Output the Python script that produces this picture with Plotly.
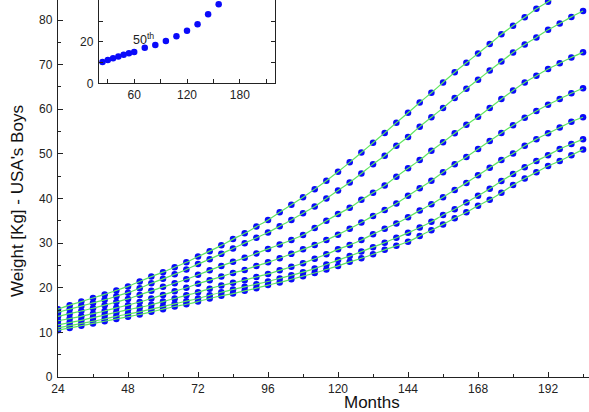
import plotly.graph_objects as go

months = [24, 28, 32, 36, 40, 44, 48, 52, 56, 60, 64, 68, 72, 76, 80, 84, 88, 92, 96, 100,
          104, 108, 112, 116, 120, 124, 128, 132, 136, 140, 144, 148, 152, 156, 160, 164,
          168, 172, 176, 180, 184, 188, 192, 196, 200, 204]

p95 = [15.2, 16.1, 16.9, 17.7, 18.5, 19.4, 20.3, 21.4, 22.5, 23.5, 24.6, 25.7, 27.0, 28.2, 29.5,
       30.9, 32.2, 33.7, 35.2, 36.9, 38.6, 40.3, 42.1, 44.0, 46.0, 48.1, 50.3, 52.5, 54.7, 57.0,
       59.2, 61.5, 63.7, 66.0, 68.3, 70.4, 72.5, 74.6, 76.8, 78.7, 80.6, 82.5, 84.1, 85.8, 87.3, 88.8]
p90 = [14.5, 15.2, 15.9, 16.6, 17.3, 18.1, 18.9, 19.9, 21.0, 22.0, 23.0, 24.1, 25.3, 26.4, 27.6,
       28.8, 30.0, 31.2, 32.4, 33.8, 35.2, 36.7, 38.2, 40.0, 41.8, 43.6, 45.6, 47.7, 49.6, 51.8,
       53.8, 56.1, 58.2, 60.3, 62.5, 64.6, 66.6, 68.7, 70.7, 72.7, 74.5, 76.1, 77.8, 79.2, 80.7, 82.0]
p75 = [13.6, 14.2, 14.8, 15.4, 16.1, 16.8, 17.5, 18.4, 19.3, 20.2, 21.0, 21.9, 22.9, 23.9, 24.9,
       25.8, 26.7, 27.7, 28.7, 29.7, 30.7, 31.8, 33.4, 35.0, 36.5, 37.9, 39.7, 41.3, 42.9, 44.9,
       46.8, 48.6, 50.7, 52.6, 54.6, 56.5, 58.3, 60.3, 62.3, 64.2, 66.0, 67.5, 69.0, 70.3, 71.6, 72.8]
p50 = [12.6, 13.1, 13.6, 14.2, 14.8, 15.5, 16.1, 16.8, 17.6, 18.4, 19.2, 20.0, 20.9, 21.7, 22.5,
       23.3, 24.0, 24.9, 25.7, 26.6, 27.6, 28.6, 29.6, 30.7, 31.9, 33.2, 34.6, 36.1, 37.4, 38.9,
       40.6, 42.3, 44.0, 45.9, 47.7, 49.3, 51.1, 52.9, 54.7, 56.4, 58.1, 59.6, 61.0, 62.3, 63.6, 64.7]
p25 = [11.7, 12.2, 12.7, 13.3, 13.9, 14.5, 15.1, 15.6, 16.2, 16.9, 17.6, 18.3, 19.0, 19.8, 20.5,
       21.1, 21.7, 22.4, 23.1, 23.9, 24.7, 25.5, 26.5, 27.5, 28.6, 29.6, 30.7, 32.0, 33.2, 34.4,
       35.8, 37.3, 38.7, 40.3, 41.9, 43.5, 45.2, 46.9, 48.6, 50.1, 51.8, 53.3, 54.6, 55.9, 57.2, 58.2]
p10 = [11.0, 11.5, 12.0, 12.5, 13.0, 13.6, 14.1, 14.6, 15.2, 15.8, 16.4, 17.0, 17.6, 18.3, 19.0,
       19.6, 20.2, 20.8, 21.4, 22.1, 22.8, 23.5, 24.3, 25.2, 26.2, 27.1, 28.1, 29.1, 30.1, 31.2,
       32.3, 33.5, 34.8, 36.3, 37.6, 39.1, 40.6, 42.2, 43.9, 45.5, 47.0, 48.4, 49.7, 51.1, 52.2, 53.3]
p5 = [10.5, 11.0, 11.5, 12.0, 12.5, 13.0, 13.5, 14.0, 14.6, 15.2, 15.8, 16.3, 16.9, 17.6, 18.2,
      18.7, 19.3, 19.9, 20.6, 21.2, 21.9, 22.6, 23.3, 24.1, 24.9, 25.8, 26.6, 27.5, 28.5, 29.4,
      30.3, 31.6, 32.9, 34.2, 35.6, 36.9, 38.4, 39.7, 41.3, 43.0, 44.5, 45.9, 47.3, 48.4, 49.7, 51.0]

inset_months = [24, 30, 36, 42, 48, 54, 60, 72, 84, 96, 108, 120, 132, 144, 156]
inset_p50 = [10.3, 11.3, 12.1, 12.9, 13.8, 14.5, 15.1, 17.1, 18.5, 20.4, 22.7, 25.3, 28.5, 33.3, 38.2]

curves = [p5, p10, p25, p50, p75, p90, p95]

DOT = "rgb(10,10,250)"
GREEN = "rgb(95,230,95)"
FONT = "Liberation Sans, Arial, sans-serif"

fig = go.Figure()
for c in curves:
    fig.add_trace(go.Scatter(x=months, y=c, mode="markers",
                             marker=dict(size=6.5, color=DOT, line=dict(width=0)),
                             showlegend=False, hoverinfo="skip"))
for c in curves:
    fig.add_trace(go.Scatter(x=months, y=c, mode="lines",
                             line=dict(color=GREEN, width=1.2, shape="spline", smoothing=0.6),
                             showlegend=False, hoverinfo="skip"))

fig.add_trace(go.Scatter(x=inset_months, y=inset_p50, mode="markers", xaxis="x2", yaxis="y2",
                         marker=dict(size=6.5, color=DOT, line=dict(width=0)),
                         showlegend=False, hoverinfo="skip"))

W, H = 589, 412
L, B = 58, 35
pw = W - L
ph = H - B


def px_x(p):
    return (p - L) / pw


def px_y(p):
    return (ph - p) / ph


axis_common = dict(showline=True, linecolor="#222", linewidth=1.3, ticks="inside",
                   tickcolor="#222", tickwidth=1, showgrid=False, zeroline=False,
                   automargin=False,
                   tickfont=dict(family=FONT, size=12, color="#222"))

fig.update_layout(
    width=W, height=H,
    margin=dict(l=L, r=0, t=0, b=B, autoexpand=False),
    paper_bgcolor="white", plot_bgcolor="white",
    xaxis=dict(range=[24, 24 + pw / 2.917], tickmode="array",
               tickvals=[24, 48, 72, 96, 120, 144, 168, 192], ticklen=5,
               minor=dict(tickvals=[36, 60, 84, 108, 132, 156, 180, 204], ticklen=3,
                          ticks="inside", tickcolor="#222"),
               **axis_common),
    yaxis=dict(range=[0, ph / 4.4625], tickmode="array",
               tickvals=[0, 10, 20, 30, 40, 50, 60, 70, 80], ticklen=5,
               minor=dict(tickvals=[5, 15, 25, 35, 45, 55, 65, 75], ticklen=3,
                          ticks="inside", tickcolor="#222"),
               ticklabelstandoff=2,
               **axis_common),
    xaxis2=dict(domain=[px_x(99), px_x(275)], anchor="y2", range=[20, 220],
                tickmode="array", tickvals=[60, 120, 180], ticklen=4,
                minor=dict(tickvals=[30, 90, 150, 210], ticklen=4, ticks="inside",
                           tickcolor="#222"),
                mirror=False, **axis_common),
    yaxis2=dict(domain=[px_y(83.3), 1.0], anchor="x2", range=[0, 40.2],
                tickmode="array", tickvals=[0, 20, 40], ticklen=4,
                minor=dict(tickvals=[10, 30], ticklen=4, ticks="inside", tickcolor="#222"),
                mirror="ticks", ticklabelstandoff=2, **axis_common),
    annotations=[
        dict(text="50<sup>th</sup>", x=71, y=21.2, xref="x2", yref="y2", showarrow=False,
             font=dict(family=FONT, size=12.5, color="#222"), xanchor="center", yanchor="middle"),
        dict(text="Weight [Kg] - USA's Boys", x=px_x(17), y=px_y(201), xref="paper",
             yref="paper", showarrow=False, textangle=-90,
             font=dict(family=FONT, size=17, color="#111"), xanchor="center", yanchor="middle"),
        dict(text="Months", x=px_x(372), y=px_y(402), xref="paper", yref="paper",
             showarrow=False, font=dict(family=FONT, size=17, color="#111"),
             xanchor="center", yanchor="middle"),
    ],
)

fig.write_html(
    "out.html",
    config={"displayModeBar": False},
    post_script="document.body.style.margin='0';document.body.style.padding='0';",
)
